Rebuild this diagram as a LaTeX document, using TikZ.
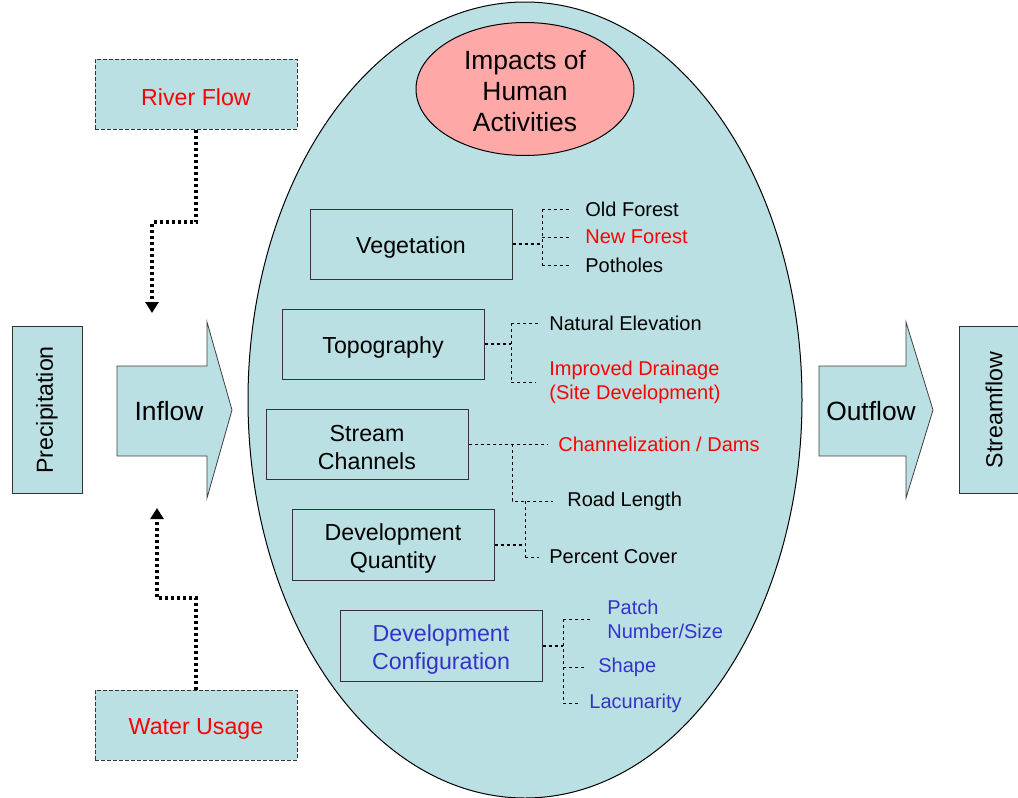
\documentclass[tikz,border=0pt]{standalone}
\usepackage{fontspec}
\setmainfont{Liberation Sans}
\usetikzlibrary{arrows.meta,positioning,shapes}
\definecolor{paleteal}{RGB}{187,224,227}
\definecolor{salmon}{RGB}{255,168,168}
\definecolor{impred}{RGB}{255,0,0}
\definecolor{cfgblue}{RGB}{51,51,204}

\begin{document}
\begin{tikzpicture}[x=0.5pt,y=-0.5pt,>={Triangle[length=5.5pt,width=6.5pt]},
    plainbox/.style={rectangle,draw=black!80,fill=paleteal,line width=0.5pt,
        minimum width=101pt,minimum height=35pt,align=center,
        font=\fontsize{11.6}{14}\selectfont},
    factor/.style={plainbox,text height=11.6pt},
    twoline/.style={text height=26pt},
    sidebox/.style={plainbox,minimum width=83.5pt,minimum height=35pt,rotate=90},
    srcbox/.style={factor,dash pattern=on 2pt off 1pt},
    leaf/.style={anchor=west,inner xsep=0pt,align=left,
        font=\fontsize{10}{12}\selectfont},
    flowarrow/.style={draw=black!75,fill=paleteal,line width=0.4pt},
    treeline/.style={line width=0.5pt,dash pattern=on 1.5pt off 1.5pt},
    stemline/.style={treeline,line width=0.9pt},
    feedline/.style={->,line width=1.6pt,dash pattern=on 1.5pt off 1.5pt}]

    \useasboundingbox (0,0) rectangle (1018,798);

    % the big ellipse and its title
    \node[ellipse,draw,fill=paleteal,line width=0.5pt,inner sep=0pt,
          minimum width=277pt,minimum height=398pt] (eco) at (525,400) {};
    \node[ellipse,draw,fill=salmon,line width=0.5pt,inner sep=0pt,align=center,
          minimum width=109pt,minimum height=66.5pt,text height=42.6pt,
          font=\fontsize{13.2}{15.5}\selectfont] (impacts) at (525,89)
          {Impacts of\\Human\\Activities};

    % factors
    \node[factor] (veg)   at (411,244) {Vegetation};
    \node[factor] (topo)  at (383,344) {Topography};
    \node[factor,twoline] (chan)  at (367,444) {Stream\\Channels};
    \node[factor,twoline] (quant) at (393,545) {Development\\Quantity};
    \node[factor,twoline,text=cfgblue] (config) at (441,646) {Development\\Configuration};

    % leaves
    \node[leaf] (old) at (585,209) {Old Forest};
    \node[leaf,text=impred] (new) at (585,237) {New Forest};
    \node[leaf] (pot) at (585,265) {Potholes};
    \node[leaf] (nat) at (549,323) {Natural Elevation};
    \node[leaf,text=impred] (drain) at (549,382) {Improved Drainage\\(Site Development)};
    \node[leaf,text=impred] (dams) at (558,444) {Channelization / Dams};
    \node[leaf] (road) at (567,501) {Road Length};
    \node[leaf] (cover) at (549,557) {Percent Cover};
    \node[leaf,text=cfgblue] (patch) at (607,619) {Patch\\Number/Size};
    \node[leaf,text=cfgblue] (shape) at (598,667) {Shape};
    \node[leaf,text=cfgblue] (lac) at (589,703) {Lacunarity};

    \coordinate (vj) at (542,244);
    \coordinate (tj) at (511,344);
    \coordinate (cj) at (512,444);
    \coordinate (qj) at (525,545);
    \coordinate (kj) at (563,646);

    % vegetation
    \draw[stemline] (veg) -- (vj);
    \draw[treeline] (vj |- old.west) -- (vj |- pot.west);
    \draw[treeline,shorten >=6.5pt] (vj |- old.west) -- (old.west);
    \draw[treeline,shorten >=6.5pt] (vj |- new.west) -- (new.west);
    \draw[treeline,shorten >=6.5pt] (vj |- pot.west) -- (pot.west);

    % topography
    \draw[stemline] (topo) -- (tj);
    \draw[treeline] (tj |- nat.west) -- (tj |- drain.west);
    \draw[treeline,shorten >=4.5pt] (tj |- nat.west) -- (nat.west);
    \draw[treeline,shorten >=6.5pt] (tj |- drain.west) -- (drain.west);

    % stream channels and quantity
    \draw[treeline,shorten >=5pt] (chan) -- (dams.west);
    \draw[treeline,shorten >=7pt] (cj) |- (road.west);
    \draw[stemline] (quant) -- (qj);
    \draw[treeline] (qj |- road.west) -- (qj |- cover.west);
    \draw[treeline,shorten >=5pt] (qj |- cover.west) -- (cover.west);

    % configuration
    \draw[stemline] (config) -- (kj);
    \draw[treeline] (kj |- patch.west) -- (kj |- lac.west);
    \draw[treeline,shorten >=7pt] (kj |- patch.west) -- (patch.west);
    \draw[treeline,shorten >=6.5pt] (kj |- shape.west) -- (shape.west);
    \draw[treeline,shorten >=5.5pt] (kj |- lac.west) -- (lac.west);

    % left side
    \node[sidebox] (precip) at (47,410) {Precipitation};
    \draw[flowarrow] (117,366) -- (207,366) -- (207,322) -- (232,410)
        -- (207,498) -- (207,456) -- (117,456) -- cycle;
    \node[font=\fontsize{13.2}{15.5}\selectfont] (inflow) at (169,411) {Inflow};

    % right side
    \draw[flowarrow] (819,366) -- (906,366) -- (906,322) -- (933,410)
        -- (906,498) -- (906,456) -- (819,456) -- cycle;
    \node[font=\fontsize{13.2}{15.5}\selectfont] (outflow) at (871,411) {Outflow};
    \node[sidebox] (stream) at (994,410) {Streamflow};

    % river flow and water usage
    \node[srcbox,text=impred] (river) at (196,94) {River Flow};
    \node[srcbox,text=impred] (water) at (196,725) {Water Usage};
    \coordinate (riverbend) at (152,222);
    \coordinate (rivertip) at (152,313);
    \coordinate (waterbend) at (157,598);
    \coordinate (watertip) at (157,508);
    \draw[feedline] (river.south) |- (riverbend) -- (rivertip);
    \draw[feedline] (water.north) |- (waterbend) -- (watertip);
\end{tikzpicture}
\end{document}
